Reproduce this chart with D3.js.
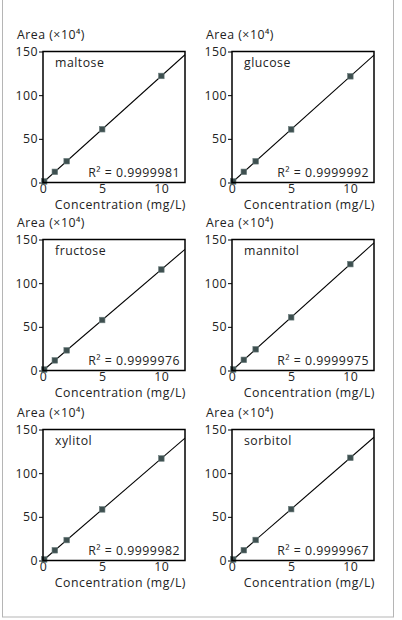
<!DOCTYPE html>
<html><head><meta charset="utf-8">
<script src="https://cdn.jsdelivr.net/npm/d3@7"></script>
<style>
html,body{margin:0;padding:0;background:#fff;}
svg{display:block;font-family:"Open Sans","Noto Sans",sans-serif;}
svg text{letter-spacing:0.5px;}
</style></head>
<body><svg id="c" width="402" height="620"></svg>
<script>
const sugars = ["maltose","glucose","fructose","mannitol","xylitol","sorbitol"];
const concentrations = [0.1, 1, 2, 5, 10];
const areaMaltose  = [1.2, 12.2, 24.4, 61.0, 122.0];
const areaGlucose  = [1.2, 12.2, 24.3, 60.8, 121.6];
const areaFructose = [1.1, 11.6, 23.1, 57.8, 115.6];
const areaMannitol = [1.2, 12.2, 24.3, 60.9, 121.8];
const areaXylitol  = [1.2, 11.7, 23.4, 58.5, 116.8];
const areaSorbitol = [1.2, 11.8, 23.5, 58.8, 117.6];
const rSquared = ["0.9999981","0.9999992","0.9999976","0.9999975","0.9999982","0.9999967"];
const xTicks = [0, 5, 10];
const yTicks = [0, 50, 100, 150];
const xDomain = [0, 12];
const yDomain = [0, 150];
const yLabel = "Area (×10⁴)";
const xLabel = "Concentration (mg/L)";

const seriesList = [areaMaltose, areaGlucose, areaFructose, areaMannitol, areaXylitol, areaSorbitol];
const svg = d3.select("#c");
const FS = 12.3, TXT = "#222";

// outer frame
svg.append("rect").attr("x",2.5).attr("y",-1).attr("width",391).attr("height",618)
  .attr("fill","none").attr("stroke","#b5b5b5").attr("stroke-width",1);

const colX = [43, 232];
const rowY = [51.5, 239.5, 429.5];
const W = 142, H = 131;

function fit(xs, ys){
  const n = xs.length, mx = d3.mean(xs), my = d3.mean(ys);
  let sxy=0, sxx=0;
  for(let i=0;i<n;i++){ sxy += (xs[i]-mx)*(ys[i]-my); sxx += (xs[i]-mx)**2; }
  const b = sxy/sxx; return {b, a: my - b*mx};
}

sugars.forEach((name, i) => {
  const ox = colX[i%2], oy = rowY[Math.floor(i/2)];
  const g = svg.append("g").attr("transform",`translate(${ox},${oy})`);
  const x = d3.scaleLinear().domain(xDomain).range([0, W]);
  const y = d3.scaleLinear().domain(yDomain).range([H, 0]);
  const vals = seriesList[i];

  const clipId = "clip"+i;
  g.append("clipPath").attr("id",clipId).append("rect").attr("width",W).attr("height",H);

  // y axis ticks + labels
  const ya = d3.axisLeft(y).tickValues(yTicks).tickSize(4).tickPadding(1);
  const yg = g.append("g").call(ya);
  yg.select(".domain").remove();
  yg.selectAll("line").attr("stroke","#000").attr("stroke-width",1);
  yg.selectAll("text").attr("font-size",FS).attr("fill",TXT).attr("font-family","'Open Sans',sans-serif");

  const xa = d3.axisBottom(x).tickValues(xTicks).tickSize(0).tickPadding(1.5);
  const xg = g.append("g").attr("transform",`translate(0,${H})`).call(xa);
  xg.select(".domain").remove();
  xg.selectAll("text").attr("font-size",FS).attr("fill",TXT).attr("font-family","'Open Sans',sans-serif");

  // fitted line
  const f = fit(concentrations, vals);
  g.append("line").attr("clip-path",`url(#${clipId})`)
    .attr("x1", x(xDomain[0])).attr("y1", y(f.a + f.b*xDomain[0]))
    .attr("x2", x(xDomain[1])).attr("y2", y(f.a + f.b*xDomain[1]))
    .attr("stroke","#000").attr("stroke-width",1.1);

  // points
  g.selectAll("rect.pt").data(concentrations.map((c,k)=>[c, vals[k]])).enter()
    .append("rect").attr("class","pt")
    .attr("x", d => x(d[0]) - 2.8).attr("y", d => y(d[1]) - 2.8)
    .attr("width",5.6).attr("height",5.6)
    .attr("fill","#3e5050").attr("stroke","#6f8080").attr("stroke-width",0.6);

  // box
  g.append("rect").attr("width",W).attr("height",H).attr("fill","none")
    .attr("stroke","#000").attr("stroke-width",1.5);

  // labels
  g.append("text").attr("x",-26).attr("y",-13).attr("font-size",FS).attr("fill",TXT).text(yLabel);
  g.append("text").attr("x",W+1).attr("y",H+26.5).attr("text-anchor","end").attr("font-size",FS).attr("fill",TXT).text(xLabel);
  g.append("text").attr("x",12).attr("y",15).attr("font-size",FS).attr("fill",TXT).text(name);
  g.append("text").attr("x",W-5).attr("y",H-6).attr("text-anchor","end").attr("font-size",FS).attr("fill",TXT)
    .text("R² = " + rSquared[i]);
});
</script></body></html>
